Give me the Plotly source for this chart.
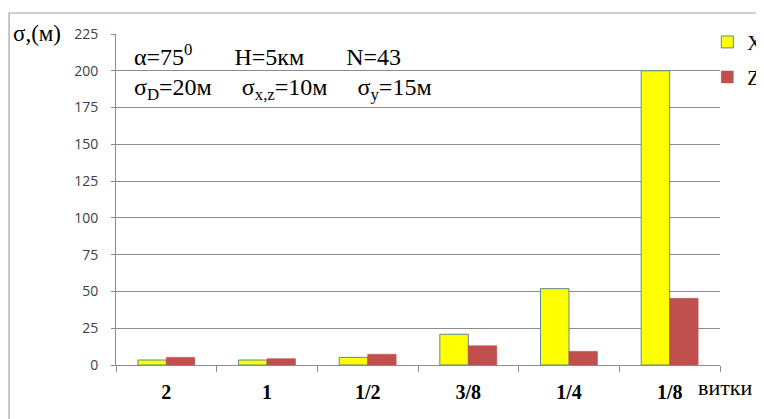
import plotly.graph_objects as go

categories = ["2", "1", "1/2", "3/8", "1/4", "1/8"]
x_values = [3.4, 3.4, 5.2, 20.9, 51.9, 200]
z_values = [5.2, 4.3, 7.3, 13.1, 9.3, 45.3]
y_ticks = [0, 25, 50, 75, 100, 125, 150, 175, 200, 225]

SERIF = "Liberation Serif"
SANS = "Open Sans"
NB = "&nbsp;"

fig = go.Figure()
fig.add_trace(go.Bar(name="X", x=categories, y=x_values, legendgroup="x",
                     marker=dict(color="#FFFF00", line=dict(color="#5b8a95", width=1))))
fig.add_trace(go.Bar(name="Z", x=categories, y=z_values, legendgroup="z",
                     marker=dict(color="#C0504D", line=dict(color="#C0504D", width=0.5))))

# page body has an 8px margin, so the figure is 8px smaller than the window
fig.update_layout(
    width=756, height=411,
    margin=dict(l=108, r=44, t=26, b=54, autoexpand=False),
    paper_bgcolor="white", plot_bgcolor="white",
    barmode="group", bargap=0.434, bargroupgap=0,
    showlegend=True,
    legend=dict(x=0.979, y=1.035, xanchor="left", yanchor="top",
                font=dict(family=SERIF, size=20, color="black"),
                itemwidth=30, tracegroupgap=6, traceorder="grouped",
                bgcolor="rgba(0,0,0,0)"),
    xaxis=dict(type="category", showline=True, linecolor="#8c8c8c", linewidth=1,
               ticks="outside", tickson="boundaries", ticklen=6, tickcolor="#8c8c8c",
               tickfont=dict(family=SERIF, size=20, color="black", weight="bold"),
               ticklabelstandoff=9, showgrid=False),
    yaxis=dict(range=[0, 225], tickvals=y_ticks, showline=True, linecolor="#8c8c8c",
               linewidth=1, ticks="outside", ticklen=4, tickcolor="#8c8c8c",
               gridcolor="#8c8c8c", gridwidth=1, zeroline=False,
               tickfont=dict(family=SANS, size=14, color="#404040"),
               ticklabelstandoff=10),
    font=dict(family=SERIF),
)

# outer chart border
fig.add_shape(type="rect", xref="paper", yref="paper", x0=-0.177, x1=1.2, y0=-0.3, y1=1.0634,
              line=dict(color="#a0a0a0", width=1.2), fillcolor="rgba(0,0,0,0)", layer="below")

fig.add_annotation(text="σ,(м)", xref="paper", yref="paper", x=-0.174, y=1.003,
                   xanchor="left", yanchor="middle", showarrow=False,
                   font=dict(family=SERIF, size=23, color="black"))
fig.add_annotation(text="α=75<sup>0</sup>" + NB * 7 + "H=5км" + NB * 7 + "N=43",
                   xref="paper", yref="paper",
                   x=0.026, y=0.938, xanchor="left", yanchor="middle", showarrow=False,
                   font=dict(family=SERIF, size=24, color="black"))
fig.add_annotation(text="σ<sub>D</sub>=20м" + NB * 5 + "σ<sub>x,z</sub>=10м" + NB * 5
                   + "σ<sub>y</sub>=15м",
                   xref="paper", yref="paper", x=0.026, y=0.835, xanchor="left",
                   yanchor="middle", showarrow=False,
                   font=dict(family=SERIF, size=24, color="black"))
fig.add_annotation(text="витки", xref="paper", yref="paper", x=0.96, y=-0.068,
                   xanchor="left", yanchor="middle", showarrow=False,
                   font=dict(family=SERIF, size=22, color="black"))

fig.write_html("out.html")
